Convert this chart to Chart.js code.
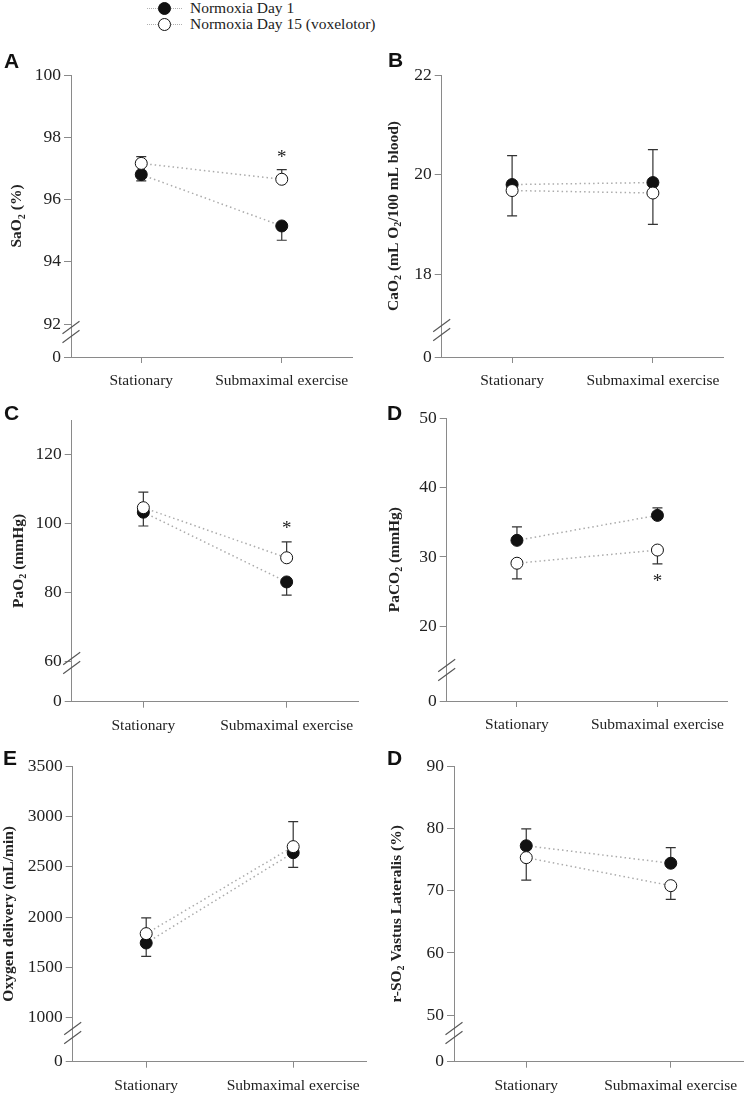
<!DOCTYPE html>
<html>
<head>
<meta charset="utf-8">
<script src="https://cdn.jsdelivr.net/npm/chart.js@4.4.0/dist/chart.umd.min.js"></script>
<style>
  html, body { margin: 0; padding: 0; background: #fff; }
  body { width: 750px; height: 1095px; position: relative; overflow: hidden; font-family: "Liberation Serif", serif; }
  canvas { position: absolute; }
  .leg-text { position: absolute; left: 190px; font-size: 15.5px; line-height: 16px; color: #222; white-space: nowrap; }
  .leg-line { position: absolute; left: 147px; width: 35px; height: 0; border-top: 1.5px dotted #b0b0b0; }
  .leg-dot { position: absolute; left: 157.5px; width: 13px; height: 13px; border-radius: 50%; border: 1px solid #111; box-sizing: border-box; }
</style>
</head>
<body>
<div class="leg-line" style="top:7.5px"></div>
<div class="leg-dot" style="top:1.8px;background:#111"></div>
<div class="leg-text" style="top:-0.5px">Normoxia Day 1</div>
<div class="leg-line" style="top:23.5px"></div>
<div class="leg-dot" style="top:17.5px;background:#fff"></div>
<div class="leg-text" style="top:16.1px">Normoxia Day 15 (voxelotor)</div>

<script>
const categories = ['Stationary', 'Submaximal exercise'];
const legendLabels = ['Normoxia Day 1', 'Normoxia Day 15 (voxelotor)'];

// A - SaO2 (%)
const sao2Day1 = [96.8, 95.15];
const sao2Day1Sem = [0.2, 0.46];
const sao2Day15 = [97.16, 96.65];
const sao2Day15Sem = [0.22, 0.31];
const sao2Ticks = [0, 92, 94, 96, 98, 100];
const sao2Stars = [[1, 97.48]];

// B - CaO2 (mL O2/100 mL blood)
const cao2Day1 = [19.8, 19.84];
const cao2Day1Sem = [0.58, 0.66];
const cao2Day15 = [19.68, 19.63];
const cao2Day15Sem = [0.51, 0.63];
const cao2Ticks = [0, 18, 20, 22];

// C - PaO2 (mmHg)
const pao2Day1 = [103.3, 83.1];
const pao2Day1Sem = [4.0, 3.8];
const pao2Day15 = [104.6, 90.1];
const pao2Day15Sem = [4.5, 4.6];
const pao2Ticks = [0, 60, 80, 100, 120];
const pao2Stars = [[1, 99.8]];

// D - PaCO2 (mmHg)
const paco2Day1 = [32.4, 36.0];
const paco2Day1Sem = [1.93, 1.07];
const paco2Day15 = [29.1, 31.0];
const paco2Day15Sem = [2.27, 2.0];
const paco2Ticks = [0, 20, 30, 40, 50];
const paco2Stars = [[1, 27.1]];

// E - oxygen delivery (mL/min)
const do2Day1 = [1742, 2639];
const do2Day1Sem = [133, 145];
const do2Day15 = [1835, 2699];
const do2Day15Sem = [156, 248];
const do2Ticks = [0, 1000, 1500, 2000, 2500, 3000, 3500];

// F - r-SO2 vastus lateralis (%)
const rso2Day1 = [77.2, 74.4];
const rso2Day1Sem = [2.7, 2.5];
const rso2Day15 = [75.3, 70.8];
const rso2Day15Sem = [3.6, 2.2];
const rso2Ticks = [0, 50, 60, 70, 80, 90];

// y axis with a break: 0..breakAt squeezed into gapPx at the bottom
class BrokenScale extends Chart.LinearScale {
  determineDataLimits() {
    this.min = 0;
    this.max = this.options.max;
  }
  buildTicks() {
    return this.options.tickValues.map(v => ({ value: v }));
  }
  getPixelForValue(value) {
    const b = this.options.breakAt, g = this.options.gapPx;
    if (value <= b) return this.bottom - (value / b) * g;
    return this.bottom - g - (value - b) / (this.max - b) * (this.bottom - g - this.top);
  }
  getValueForPixel(px) {
    const b = this.options.breakAt, g = this.options.gapPx;
    if (px >= this.bottom - g) return (this.bottom - px) / g * b;
    return b + (this.bottom - g - px) / (this.bottom - g - this.top) * (this.max - b);
  }
}
BrokenScale.id = 'broken';
BrokenScale.defaults = Chart.LinearScale.defaults;
Chart.register(BrokenScale);

const panels = [
  { letter: 'A', letterAt: [4, 67.5], box: [0, 40, 375, 360], area: [71, 75, 352, 357],
    ticks: sao2Ticks, brk: 92, max: 100, gap: 33, markY: 332, title: 'SaO_2 (%)', titleX: 17.5,
    day1: sao2Day1, day1Sem: sao2Day1Sem, day15: sao2Day15, day15Sem: sao2Day15Sem, stars: sao2Stars },
  { letter: 'B', letterAt: [388, 66.5], box: [375, 40, 375, 360], area: [441.7, 75, 723.3, 357],
    ticks: cao2Ticks, brk: 17, max: 22, gap: 33, markY: 330, title: 'CaO_2 (mL O_2/100 mL blood)', titleX: 394,
    day1: cao2Day1, day1Sem: cao2Day1Sem, day15: cao2Day15, day15Sem: cao2Day15Sem, stars: [] },
  { letter: 'C', letterAt: [4, 420], box: [0, 398, 375, 342], area: [71.7, 420, 358.3, 701.7],
    ticks: pao2Ticks, brk: 60, max: 130, gap: 40, markY: 663, title: 'PaO_2 (mmHg)', titleX: 18.8,
    day1: pao2Day1, day1Sem: pao2Day1Sem, day15: pao2Day15, day15Sem: pao2Day15Sem, stars: pao2Stars },
  { letter: 'D', letterAt: [387, 420], box: [375, 398, 375, 342], area: [446.7, 418.3, 727.7, 701],
    ticks: paco2Ticks, brk: 15, max: 50, gap: 40, markY: 670, title: 'PaCO_2 (mmHg)', titleX: 395,
    day1: paco2Day1, day1Sem: paco2Day1Sem, day15: paco2Day15, day15Sem: paco2Day15Sem, stars: paco2Stars },
  { letter: 'E', letterAt: [3, 765], box: [0, 740, 375, 355], area: [72.7, 766, 366.7, 1061.7],
    ticks: do2Ticks, brk: 1000, max: 3500, gap: 44, markY: 1033, title: 'Oxygen delivery (mL/min)', titleX: 9,
    day1: do2Day1, day1Sem: do2Day1Sem, day15: do2Day15, day15Sem: do2Day15Sem, stars: [] },
  { letter: 'D', letterAt: [387, 765], box: [375, 740, 375, 355], area: [454, 766, 745.7, 1061.7],
    ticks: rso2Ticks, brk: 50, max: 90, gap: 46.4, markY: 1033, title: 'r-SO_2 Vastus Lateralis (%)', titleX: 396.7,
    day1: rso2Day1, day1Sem: rso2Day1Sem, day15: rso2Day15, day15Sem: rso2Day15Sem, stars: [] },
];

const AXIS = '#8a8a8a';
const TEXT = '#222';

// draw "SaO_2" style text rotated, _X = subscript char
function drawSubText(ctx, str, cx, cy, size) {
  const parts = [];
  for (let i = 0; i < str.length; i++) {
    if (str[i] === '_') { parts.push({ t: str[i + 1], sub: true }); i++; }
    else if (parts.length && !parts[parts.length - 1].sub) parts[parts.length - 1].t += str[i];
    else parts.push({ t: str[i], sub: false });
  }
  const main = `bold ${size}px "Liberation Serif"`;
  const small = `bold ${size * 0.65}px "Liberation Serif"`;
  let total = 0;
  parts.forEach(p => { ctx.font = p.sub ? small : main; p.w = ctx.measureText(p.t).width; total += p.w; });
  ctx.save();
  ctx.translate(cx, cy);
  ctx.rotate(-Math.PI / 2);
  ctx.fillStyle = TEXT;
  ctx.textBaseline = 'alphabetic';
  let x = -total / 2;
  const base = size * 0.25;
  parts.forEach(p => {
    ctx.font = p.sub ? small : main;
    ctx.fillText(p.t, x, p.sub ? base + size * 0.22 : base);
    x += p.w;
  });
  ctx.restore();
}

function decor(p) {
  const [bx, by] = p.box;
  return {
    id: 'decor',
    beforeDatasetsDraw(chart) {
      const ctx = chart.ctx, xs = chart.scales.x, ys = chart.scales.y;
      ctx.save();
      ctx.strokeStyle = '#333';
      ctx.lineWidth = 1.2;
      categories.forEach((c, i) => {
        const x = xs.getPixelForValue(i);
        [[p.day1, p.day1Sem, p.day15], [p.day15, p.day15Sem, p.day1]].forEach(([v, e, other]) => {
          const end = v[i] >= other[i] ? v[i] + e[i] : v[i] - e[i];
          const y0 = ys.getPixelForValue(v[i]), y1 = ys.getPixelForValue(end);
          ctx.beginPath();
          ctx.moveTo(x, y0); ctx.lineTo(x, y1);
          ctx.moveTo(x - 5, y1); ctx.lineTo(x + 5, y1);
          ctx.stroke();
        });
      });
      ctx.restore();
    },
    afterDraw(chart) {
      const ctx = chart.ctx, xs = chart.scales.x, ys = chart.scales.y;
      ctx.save();
      // panel letter
      ctx.fillStyle = '#111';
      ctx.font = 'bold 21px "Liberation Sans"';
      ctx.textBaseline = 'alphabetic';
      ctx.fillText(p.letter, p.letterAt[0] - bx, p.letterAt[1] - by);
      // axis title
      drawSubText(ctx, p.title, p.titleX - bx, (chart.chartArea.top + chart.chartArea.bottom) / 2, 15.5);
      // axis break marks
      const ax = chart.chartArea.left, my = p.markY - by;
      ctx.strokeStyle = '#555';
      ctx.lineWidth = 1.1;
      [-4.5, 4.5].forEach(d => {
        ctx.beginPath();
        ctx.moveTo(ax - 8.5, my + d + 6.3);
        ctx.lineTo(ax + 8.5, my + d - 6.3);
        ctx.stroke();
      });
      // significance stars
      ctx.fillStyle = TEXT;
      ctx.font = '19px "Liberation Serif"';
      ctx.textAlign = 'center';
      p.stars.forEach(([i, v]) => {
        const m = ctx.measureText('*');
        const y = ys.getPixelForValue(v) + (m.actualBoundingBoxAscent - m.actualBoundingBoxDescent) / 2;
        ctx.fillText('*', xs.getPixelForValue(i), y);
      });
      ctx.restore();
    }
  };
}

function makePanel(p) {
  const [cx, cy, cw, ch] = p.box;
  const [al, at, ar, ab] = p.area;
  const xAxisH = cy + ch - ab;   // x axis fills the rest of the canvas
  const c = document.createElement('canvas');
  c.width = cw; c.height = ch;
  c.style.left = cx + 'px'; c.style.top = cy + 'px';
  c.style.width = cw + 'px'; c.style.height = ch + 'px';
  document.body.appendChild(c);

  const line = {
    borderColor: '#ababab', borderWidth: 1.5, borderDash: [1.5, 3],
    pointRadius: 6, pointHoverRadius: 6, pointBorderColor: '#111', pointBorderWidth: 1, fill: false
  };

  new Chart(c, {
    type: 'line',
    data: {
      labels: categories,
      datasets: [
        { ...line, label: legendLabels[1], data: p.day15, order: 0, pointBackgroundColor: '#fff' },
        { ...line, label: legendLabels[0], data: p.day1, order: 1, pointBackgroundColor: '#111' }
      ]
    },
    options: {
      responsive: false,
      animation: false,
      events: [],
      layout: { padding: { left: 0, top: at - cy, right: cx + cw - ar, bottom: 0 } },
      plugins: { legend: { display: false }, tooltip: { enabled: false } },
      scales: {
        x: {
          type: 'category',
          offset: true,
          border: { color: AXIS, width: 1 },
          grid: { drawOnChartArea: false, offset: false, tickLength: 6, color: AXIS },
          ticks: { color: TEXT, font: { family: 'Liberation Serif', size: 15.5 }, padding: 8.5, autoSkip: false, maxRotation: 0 },
          afterFit: s => { s.height = xAxisH; }
        },
        y: {
          type: 'broken',
          min: 0,
          max: p.max,
          breakAt: p.brk,
          gapPx: p.gap,
          tickValues: p.ticks,
          border: { color: AXIS, width: 1 },
          grid: { drawOnChartArea: false, tickLength: 7, color: AXIS },
          ticks: { color: TEXT, font: { family: 'Liberation Serif', size: 17.5 }, padding: 3, autoSkip: false, callback: v => String(v) },
          afterFit: s => { s.width = al - cx; }
        }
      }
    },
    plugins: [decor(p)]
  });
}

panels.forEach(makePanel);
</script>
</body>
</html>
